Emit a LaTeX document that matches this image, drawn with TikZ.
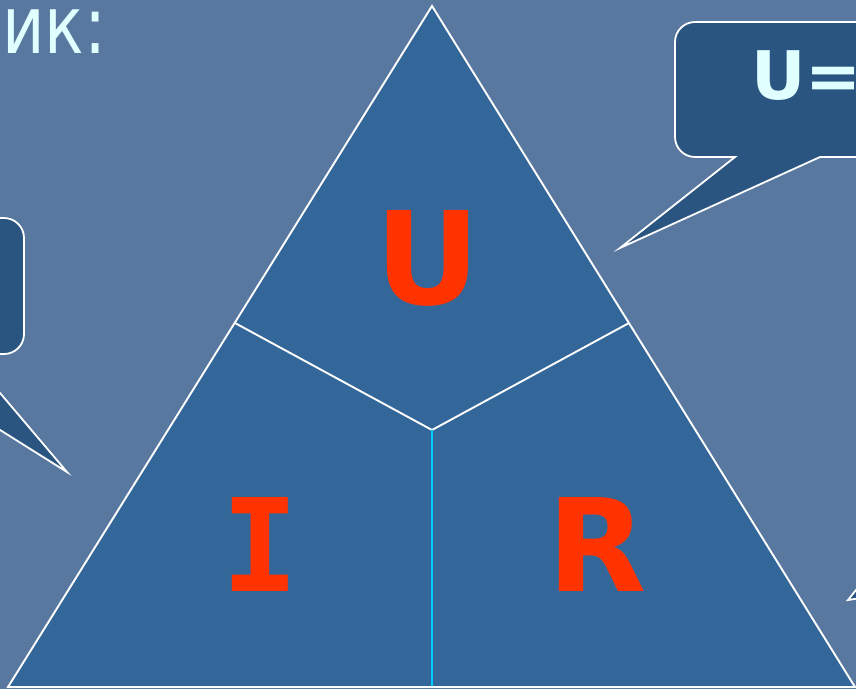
\documentclass[tikz,border=0pt]{standalone}
\usepackage{fontspec}
\setmainfont{DejaVu Sans}
\newfontfamily\monofnt{DejaVu Sans Mono}
\definecolor{bgblue}{HTML}{5878A0}
\definecolor{triblue}{HTML}{336699}
\definecolor{callblue}{HTML}{2B5581}
\definecolor{letred}{HTML}{FF3300}
\definecolor{lightcyan}{HTML}{E0FFFF}
\definecolor{divcyan}{HTML}{00CCFF}
\tikzset{
  callout/.style={fill=callblue, draw=white, line width=1.8pt, line join=miter},
  triedge/.style={draw=white, line width=1.9pt},
  bigletter/.style={text=letred, inner sep=0pt, font=\bfseries\fontsize{129}{129}\selectfont},
  lighttext/.style={text=lightcyan, inner sep=0pt}
}
\begin{document}
\begin{tikzpicture}[x=1pt,y=-1pt]
\useasboundingbox (0,0) rectangle (856,689);
\clip (0,0) rectangle (856,689);
\fill[bgblue] (0,0) rectangle (856,689);
% callouts
\draw[callout] (900,22) -- (695,22) arc[start angle=270,end angle=180,radius=20]
  -- (675,137) arc[start angle=180,end angle=90,radius=20]
  -- (735,157) -- (620,248) -- (820,157) -- (900,157) -- cycle;
\draw[callout] (-200,218) -- (4,218) arc[start angle=270,end angle=360,radius=20]
  -- (24,334) arc[start angle=0,end angle=90,radius=20]
  -- (-33,354) -- (67,472) -- (-121,354) -- (-200,354) -- cycle;
\draw[callout] (880,560) -- (848,600) -- (900,592) -- cycle;
% triangle
\coordinate (apex) at (432,6);
\coordinate (bl) at (8,687);
\coordinate (br) at (855,687);
\coordinate (ml) at (235,323);
\coordinate (mr) at (629,323);
\coordinate (ctr) at (432,430);
\coordinate (bm) at (432,687);
\fill[triblue] (apex) -- (bl) -- (br) -- cycle;
\draw[triedge] (ml) -- (ctr) -- (mr);
\draw[divcyan, line width=1.6pt] (ctr) -- (bm);
\draw[triedge, line join=miter] (apex) -- (bl) -- (br) -- cycle;
% letters
\node[bigletter, anchor=base] (U) at (428,304) {U};
\node[bigletter, anchor=base] (I) at (260.5,591) {\monofnt\bfseries I};
\node[bigletter, anchor=base] (R) at (597,591) {R};
% texts
\node[lighttext, anchor=base west, font=\fontsize{80}{80}\selectfont] (title) at (2,53) {\scalebox{0.82}[1]{ик:}};
\node[lighttext, anchor=base west, font=\bfseries\fontsize{67}{67}\selectfont] (formula) at (751,99) {U=};
\end{tikzpicture}
\end{document}
